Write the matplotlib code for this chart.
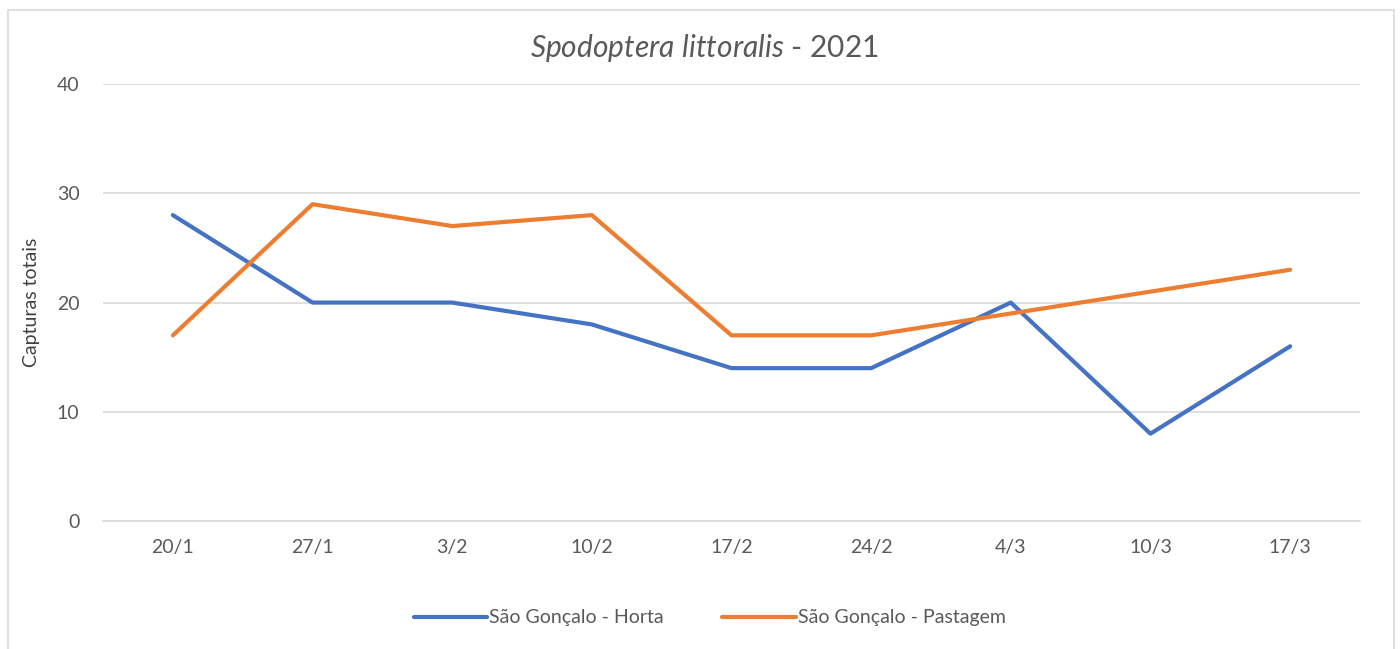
import matplotlib.pyplot as plt
from matplotlib.patches import Rectangle

plt.rcParams['font.family'] = ['Lato', 'DejaVu Sans']
plt.rcParams['mathtext.fontset'] = 'custom'
plt.rcParams['mathtext.it'] = 'Lato:italic'
plt.rcParams['mathtext.rm'] = 'Lato'

# data
datas = ["20/1", "27/1", "3/2", "10/2", "17/2", "24/2", "4/3", "10/3", "17/3"]
horta = [28, 20, 20, 18, 14, 14, 20, 8, 16]
pastagem = [17, 29, 27, 28, 17, 17, 19, 21, 23]

cor_texto = "#595959"

fig = plt.figure(figsize=(14, 6.49), dpi=100)
ax = fig.add_axes([0.0736, 0.197, 0.8978, 0.6736])

x = range(len(datas))
ax.plot(x, horta, color="#4472C4", lw=3, solid_capstyle="round", label="São Gonçalo - Horta")
ax.plot(x, pastagem, color="#ED7D31", lw=3, solid_capstyle="round", label="São Gonçalo - Pastagem")

ax.set_xlim(-0.5, len(datas) - 0.5)
ax.set_ylim(0, 40)
ax.set_yticks([0, 10, 20, 30, 40])
ax.set_xticks(list(x))
ax.set_xticklabels(datas)
ax.grid(axis="y", color="#D9D9D9", lw=1.2)
ax.set_axisbelow(True)
for s in ["top", "right", "left"]:
    ax.spines[s].set_visible(False)
ax.spines["bottom"].set_color("#D9D9D9")
ax.spines["bottom"].set_linewidth(1.2)
ax.tick_params(length=0, labelsize=14, labelcolor=cor_texto)
ax.tick_params(axis="x", pad=13)
ax.tick_params(axis="y", pad=17)

ax.set_ylabel("Capturas totais", fontsize=14, color="#404040", labelpad=12)
# title centred on the whole chart area, like Excel does
fig.text(0.503, 0.926, r"$\it{Spodoptera\ littoralis}$ - 2021", fontsize=21.5,
         color=cor_texto, ha="center", va="center")

leg = fig.legend(loc="center", bbox_to_anchor=(0.507, 0.048), ncol=2, frameon=False,
                 fontsize=14, handlelength=3.8, handletextpad=0.1, columnspacing=3.0)
for t in leg.get_texts():
    t.set_color(cor_texto)

# chart border
fig.patches.append(Rectangle((0.006, -0.01), 0.99, 0.995, transform=fig.transFigure,
                             fill=False, edgecolor="#D9D9D9", lw=1.2))

fig.savefig("out.png", dpi=100)
